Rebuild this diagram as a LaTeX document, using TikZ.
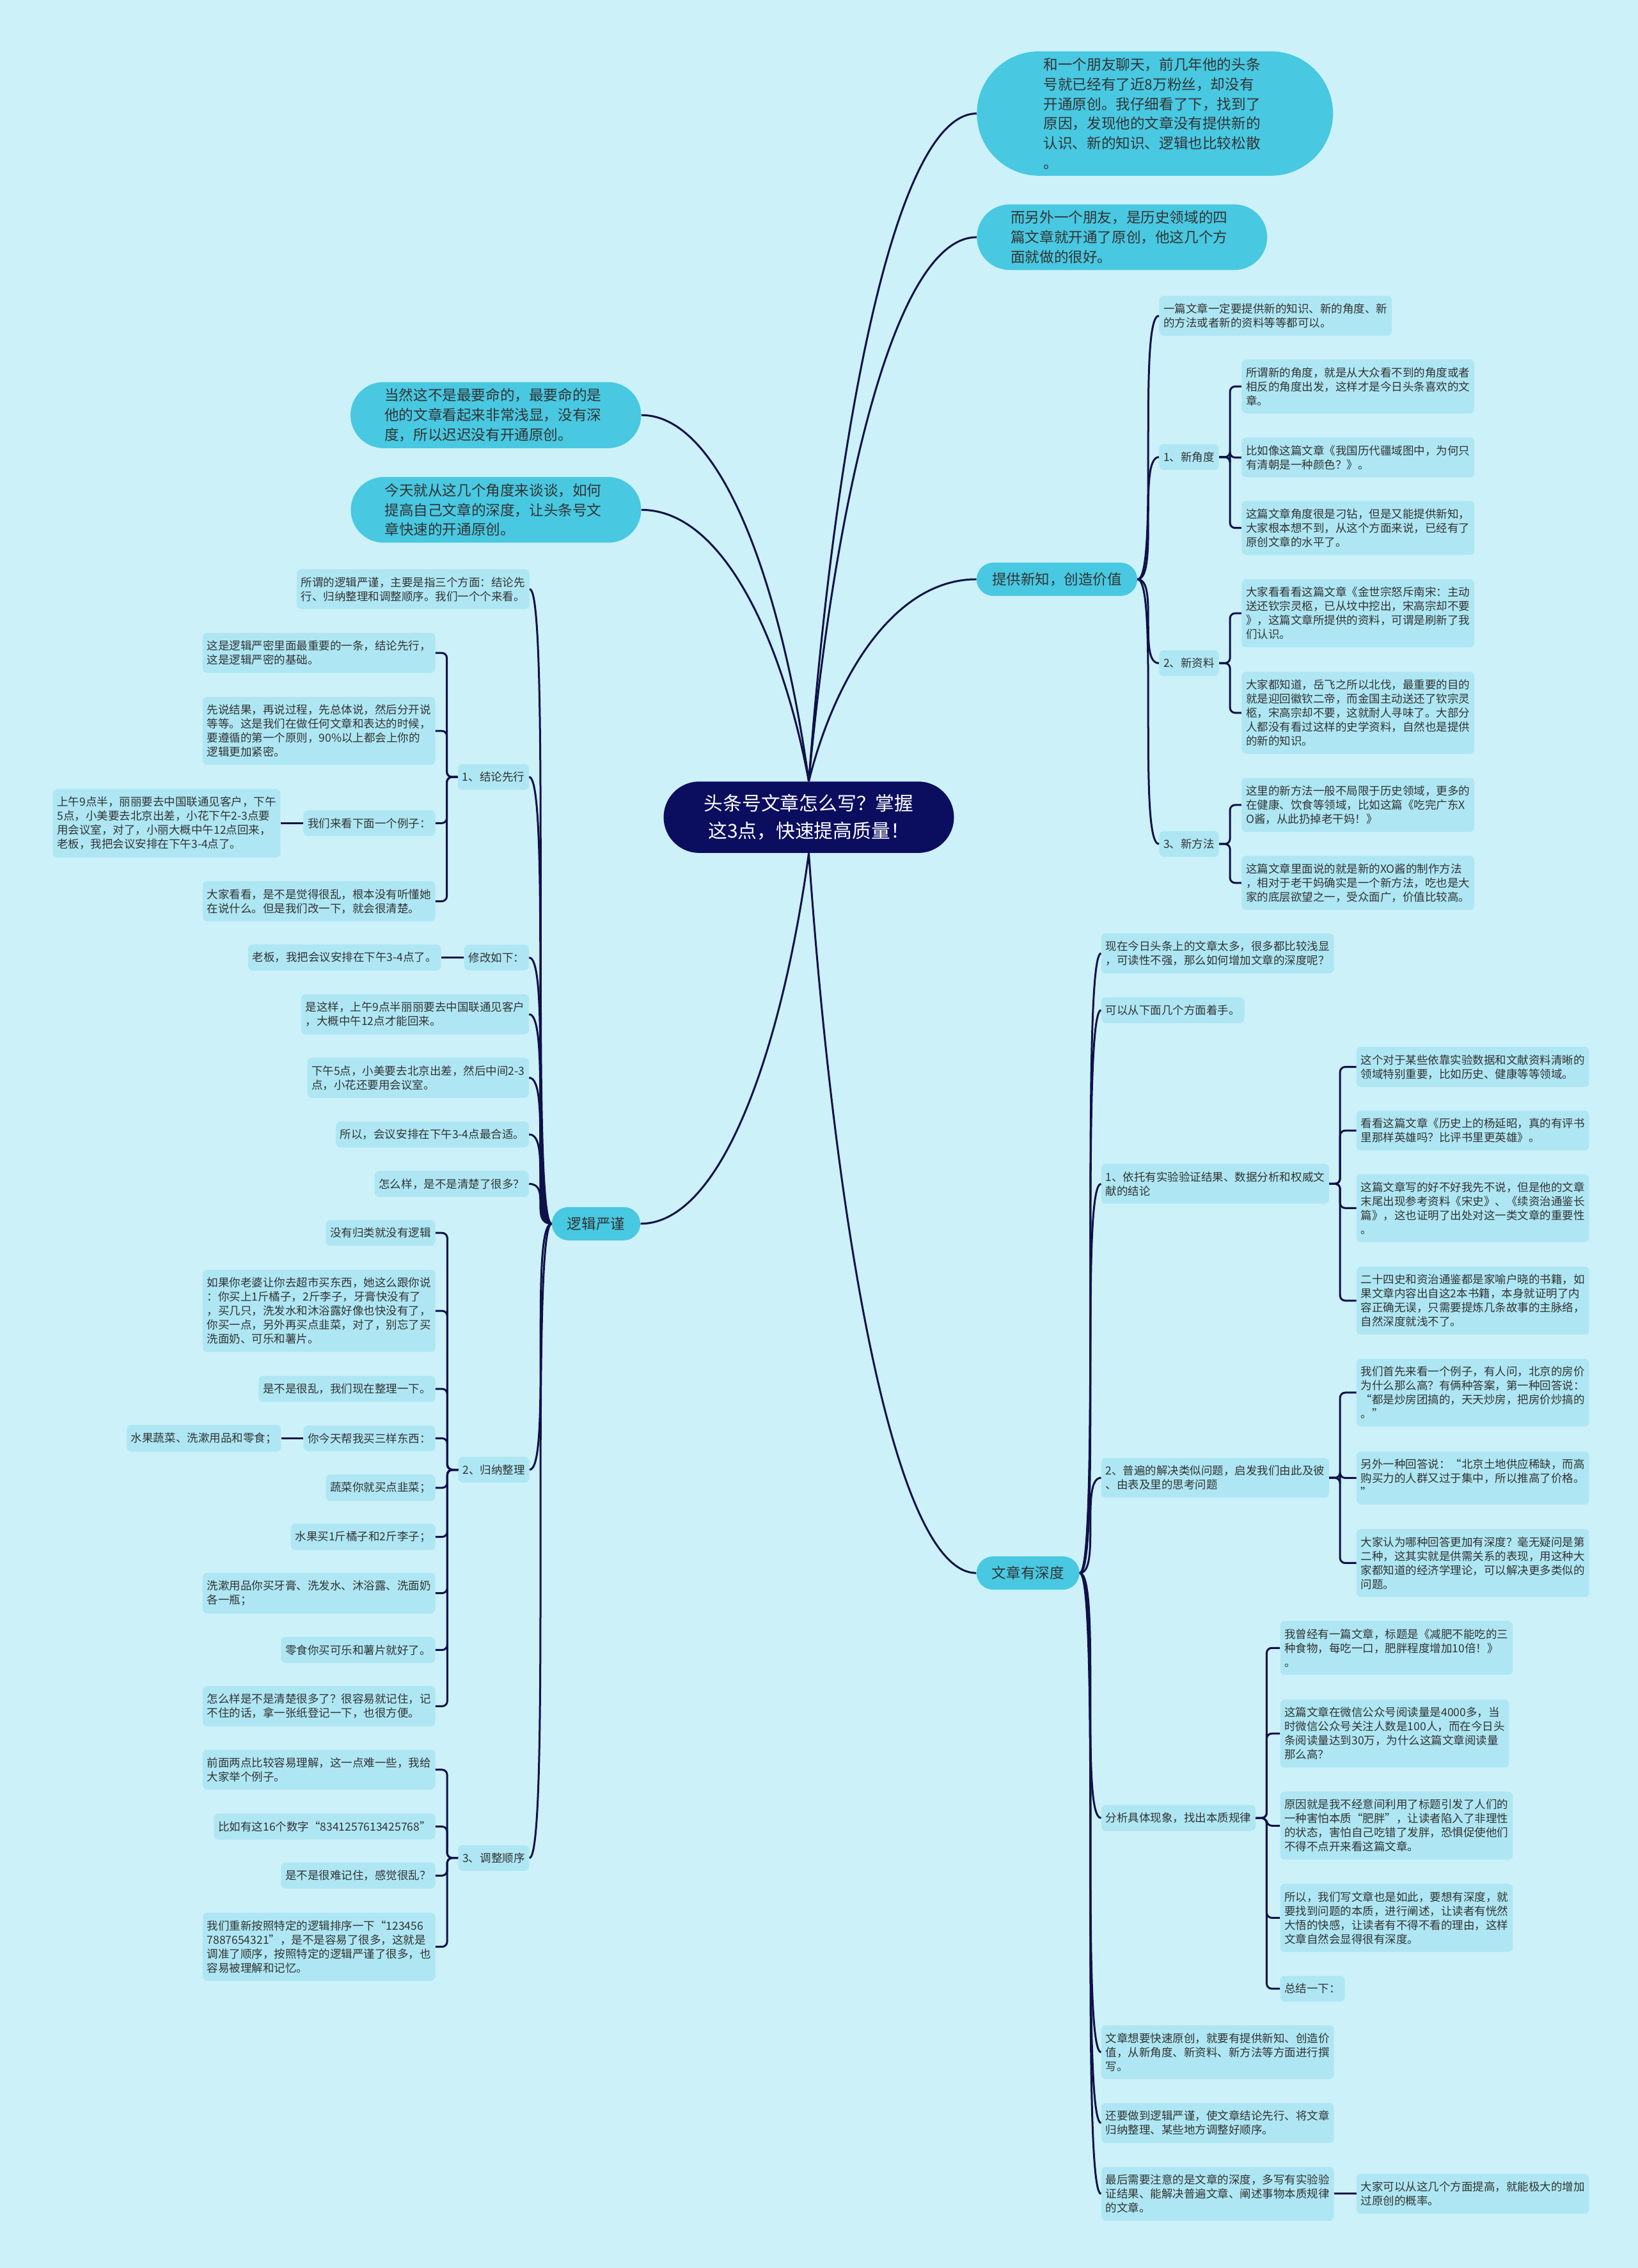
\documentclass[tikz,border=0pt]{standalone}
\usepackage{fontspec}
\setmainfont{Noto Sans CJK SC}
\usetikzlibrary{shapes.misc,calc}
\definecolor{bgc}{HTML}{CCF1F8}
\definecolor{leafc}{HTML}{AEE7F3}
\definecolor{bubc}{HTML}{48C8E1}
\definecolor{navy}{HTML}{0B0D5E}
\definecolor{linec}{HTML}{0F1149}
\definecolor{txt}{HTML}{333333}
\newcommand\lfont{\fontsize{8.75}{11}\selectfont}
\newcommand\bubfont{\fontsize{11.3}{15.4}\selectfont}
\newcommand\brfont{\fontsize{11.25}{13}\selectfont}
\newcommand\ctrfont{\fontsize{14.9}{21.5}\selectfont}
\newcommand\slink[2]{\draw[conn] (#1) .. controls (#1 -| #2) and (#2 -| #1) .. (#2);}
\newcommand\rlink[2]{\draw[conn,rounded corners=4pt] (#1) -- ++(7.5,0) |- (#2);}
\newcommand\llink[2]{\draw[conn,rounded corners=4pt] (#1) -- ++(-7.5,0) |- (#2);}
\newcommand\mlink[2]{\draw[conn] let \p1=(#1), \p2=(#2) in (\p1) .. controls ({\x1+0.15*(\x2-\x1)},{\y1+0.5*(\y2-\y1)}) and ({\x1+0.5*(\x2-\x1)},\y2) .. (\p2);}
\begin{document}
\begin{tikzpicture}[x=1.1307pt,y=-1.1307pt,
 leaf/.style={fill=leafc, rounded corners=3.5pt, inner xsep=3.4pt, inner ysep=6pt, align=left, font=\lfont, text=txt},
 bubble/.style={rounded rectangle, fill=bubc, inner xsep=16pt, inner ysep=5pt, text width=174pt, align=left, font=\bubfont, text=txt},
 branch/.style={rounded rectangle, fill=bubc, inner xsep=11pt, inner ysep=3pt, minimum height=26pt, font=\brfont, text=txt},
 ctrnode/.style={rounded rectangle, fill=navy, text=white, font=\ctrfont, align=center, inner xsep=25pt, inner ysep=10pt},
 conn/.style={draw=linec, line width=1.5pt}]
\fill[bgc] (0,0) rectangle (1132,1568);

% center and bubbles
\node[ctrnode] (ctr) at (559,565) {头条号文章怎么写？掌握\\这3点，快速提高质量！};
\node[bubble, anchor=west, inner xsep=25pt] (q1) at (675,78.5) {和一个朋友聊天，前几年他的头条\\号就已经有了近8万粉丝，却没有\\开通原创。我仔细看了下，找到了\\原因，发现他的文章没有提供新的\\认识、新的知识、逻辑也比较松散\\。};
\node[bubble, anchor=west] (q2) at (675,164) {而另外一个朋友，是历史领域的四\\篇文章就开通了原创，他这几个方\\面就做的很好。};
\node[bubble, anchor=east] (q3) at (443.3,287) {当然这不是最要命的，最要命的是\\他的文章看起来非常浅显，没有深\\度，所以迟迟没有开通原创。};
\node[bubble, anchor=east] (q4) at (443.3,352.5) {今天就从这几个角度来谈谈，如何\\提高自己文章的深度，让头条号文\\章快速的开通原创。};

\node[branch] (p1) at (730.5,400.5) {提供新知，创造价值};
\node[branch] (p2) at (412,846) {逻辑严谨};
\node[branch] (p3) at (710.5,1087.5) {文章有深度};

% branch 1
\node[leaf, anchor=west] (a0) at (801,218.3) {一篇文章一定要提供新的知识、新的角度、新\\的方法或者新的资料等等都可以。};
\node[leaf, anchor=west] (a1) at (801,316) {1、新角度};
\node[leaf, anchor=west] (a11) at (858,267.2) {所谓新的角度，就是从大众看不到的角度或者\\相反的角度出发，这样才是今日头条喜欢的文\\章。};
\node[leaf, anchor=west] (a12) at (858,316.3) {比如像这篇文章《我国历代疆域图中，为何只\\有清朝是一种颜色？》。};
\node[leaf, anchor=west] (a13) at (858,365) {这篇文章角度很是刁钻，但是又能提供新知，\\大家根本想不到，从这个方面来说，已经有了\\原创文章的水平了。};
\node[leaf, anchor=west] (a2) at (801,458.5) {2、新资料};
\node[leaf, anchor=west] (a21) at (858,424) {大家看看看这篇文章《金世宗怒斥南宋：主动\\送还钦宗灵柩，已从坟中挖出，宋高宗却不要\\》，这篇文章所提供的资料，可谓是刷新了我\\们认识。};
\node[leaf, anchor=west] (a22) at (858,492.8) {大家都知道，岳飞之所以北伐，最重要的目的\\就是迎回徽钦二帝，而金国主动送还了钦宗灵\\柩，宋高宗却不要，这就耐人寻味了。大部分\\人都没有看过这样的史学资料，自然也是提供\\的新的知识。};
\node[leaf, anchor=west] (a3) at (801,583.5) {3、新方法};
\node[leaf, anchor=west] (a31) at (858,556.5) {这里的新方法一般不局限于历史领域，更多的\\在健康、饮食等领域，比如这篇《吃完广东X\\O酱，从此扔掉老干妈！》};
\node[leaf, anchor=west] (a32) at (858,610.4) {这篇文章里面说的就是新的XO酱的制作方法\\，相对于老干妈确实是一个新方法，吃也是大\\家的底层欲望之一，受众面广，价值比较高。};

% branch 3
\node[leaf, anchor=west] (c0) at (761,659.1) {现在今日头条上的文章太多，很多都比较浅显\\，可读性不强，那么如何增加文章的深度呢？};
\node[leaf, anchor=west] (c1) at (761,698.4) {可以从下面几个方面着手。};
\node[leaf, anchor=west] (c2) at (761,818.4) {1、依托有实验验证结果、数据分析和权威文\\献的结论};
\node[leaf, anchor=west] (c21) at (937.4,737.6) {这个对于某些依靠实验数据和文献资料清晰的\\领域特别重要，比如历史、健康等等领域。};
\node[leaf, anchor=west] (c22) at (937.4,781.6) {看看这篇文章《历史上的杨延昭，真的有评书\\里那样英雄吗？比评书里更英雄》。};
\node[leaf, anchor=west] (c23) at (937.4,835.2) {这篇文章写的好不好我先不说，但是他的文章\\末尾出现参考资料《宋史》、《续资治通鉴长\\篇》，这也证明了出处对这一类文章的重要性\\。};
\node[leaf, anchor=west] (c24) at (937.4,899.2) {二十四史和资治通鉴都是家喻户晓的书籍，如\\果文章内容出自这2本书籍，本身就证明了内\\容正确无误，只需要提炼几条故事的主脉络，\\自然深度就浅不了。};
\node[leaf, anchor=west] (c3) at (761,1021.7) {2、普遍的解决类似问题，启发我们由此及彼\\、由表及里的思考问题};
\node[leaf, anchor=west] (c31) at (937.4,962.8) {我们首先来看一个例子，有人问，北京的房价\\为什么那么高？有俩种答案，第一种回答说：\\“都是炒房团搞的，天天炒房，把房价炒搞的\\。”};
\node[leaf, anchor=west] (c32) at (937.4,1021.8) {另外一种回答说：“北京土地供应稀缺，而高\\购买力的人群又过于集中，所以推高了价格。\\”};
\node[leaf, anchor=west] (c33) at (937.4,1080.6) {大家认为哪种回答更加有深度？毫无疑问是第\\二种，这其实就是供需关系的表现，用这种大\\家都知道的经济学理论，可以解决更多类似的\\问题。};
\node[leaf, anchor=west] (c4) at (761,1256.9) {分析具体现象，找出本质规律};
\node[leaf, anchor=west] (c41) at (884.6,1139.3) {我曾经有一篇文章，标题是《减肥不能吃的三\\种食物，每吃一口，肥胖程度增加10倍！》\\。};
\node[leaf, anchor=west] (c42) at (884.6,1198.5) {这篇文章在微信公众号阅读量是4000多，当\\时微信公众号关注人数是100人，而在今日头\\条阅读量达到30万，为什么这篇文章阅读量\\那么高？};
\node[leaf, anchor=west] (c43) at (884.6,1262.2) {原因就是我不经意间利用了标题引发了人们的\\一种害怕本质“肥胖”，让读者陷入了非理性\\的状态，害怕自己吃错了发胖，恐惧促使他们\\不得不点开来看这篇文章。};
\node[leaf, anchor=west] (c44) at (884.6,1325.9) {所以，我们写文章也是如此，要想有深度，就\\要找到问题的本质，进行阐述，让读者有恍然\\大悟的快感，让读者有不得不看的理由，这样\\文章自然会显得很有深度。};
\node[leaf, anchor=west] (c45) at (884.6,1374.9) {总结一下：};
\node[leaf, anchor=west] (c5) at (761,1418.8) {文章想要快速原创，就要有提供新知、创造价\\值，从新角度、新资料、新方法等方面进行撰\\写。};
\node[leaf, anchor=west] (c6) at (761,1467.7) {还要做到逻辑严谨，使文章结论先行、将文章\\归纳整理、某些地方调整好顺序。};
\node[leaf, anchor=west] (c7) at (761,1516.7) {最后需要注意的是文章的深度，多写有实验验\\证结果、能解决普遍文章、阐述事物本质规律\\的文章。};
\node[leaf, anchor=west] (c71) at (937.4,1516.7) {大家可以从这几个方面提高，就能极大的增加\\过原创的概率。};

% branch 2 (left)
\node[leaf, anchor=east] (b0) at (366.1,407.3) {所谓的逻辑严谨，主要是指三个方面：结论先\\行、归纳整理和调整顺序。我们一个个来看。};
\node[leaf, anchor=east] (b1) at (365.7,537.2) {1、结论先行};
\node[leaf, anchor=east] (b11) at (301,451.4) {这是逻辑严密里面最重要的一条，结论先行，\\这是逻辑严密的基础。};
\node[leaf, anchor=east] (b12) at (301,505.3) {先说结果，再说过程，先总体说，然后分开说\\等等。这是我们在做任何文章和表达的时候，\\要遵循的第一个原则，90\%以上都会上你的\\逻辑更加紧密。};
\node[leaf, anchor=east] (b13) at (301,569.1) {我们来看下面一个例子：};
\node[leaf, anchor=east] (b131) at (194,569.1) {上午9点半，丽丽要去中国联通见客户，下午\\5点，小美要去北京出差，小花下午2-3点要\\用会议室，对了，小丽大概中午12点回来，\\老板，我把会议安排在下午3-4点了。};
\node[leaf, anchor=east] (b14) at (301,623.1) {大家看看，是不是觉得很乱，根本没有听懂她\\在说什么。但是我们改一下，就会很清楚。};
\node[leaf, anchor=east] (b2) at (365.7,662) {修改如下：};
\node[leaf, anchor=east] (b21) at (305,662) {老板，我把会议安排在下午3-4点了。};
\node[leaf, anchor=east] (b3) at (365.7,701.2) {是这样，上午9点半丽丽要去中国联通见客户\\，大概中午12点才能回来。};
\node[leaf, anchor=east] (b4) at (365.7,745.1) {下午5点，小美要去北京出差，然后中间2-3\\点，小花还要用会议室。};
\node[leaf, anchor=east] (b5) at (365.7,784.3) {所以，会议安排在下午3-4点最合适。};
\node[leaf, anchor=east] (b6) at (365.7,818.5) {怎么样，是不是清楚了很多？};
\node[leaf, anchor=east] (b7) at (366,1016.1) {2、归纳整理};
\node[leaf, anchor=east] (b71) at (301,852.4) {没有归类就没有逻辑};
\node[leaf, anchor=east] (b72) at (301,906.3) {如果你老婆让你去超市买东西，她这么跟你说\\：你买上1斤橘子，2斤李子，牙膏快没有了\\，买几只，洗发水和沐浴露好像也快没有了，\\你买一点，另外再买点韭菜，对了，别忘了买\\洗面奶、可乐和薯片。};
\node[leaf, anchor=east] (b73) at (301,960.2) {是不是很乱，我们现在整理一下。};
\node[leaf, anchor=east] (b74) at (301,994.4) {你今天帮我买三样东西：};
\node[leaf, anchor=east] (b741) at (194.4,994.4) {水果蔬菜、洗漱用品和零食；};
\node[leaf, anchor=east] (b75) at (301,1028.6) {蔬菜你就买点韭菜；};
\node[leaf, anchor=east] (b76) at (301,1062.5) {水果买1斤橘子和2斤李子；};
\node[leaf, anchor=east] (b77) at (301,1101.4) {洗漱用品你买牙膏、洗发水、沐浴露、洗面奶\\各一瓶；};
\node[leaf, anchor=east] (b78) at (301,1140.7) {零食你买可乐和薯片就好了。};
\node[leaf, anchor=east] (b79) at (301,1179.6) {怎么样是不是清楚很多了？很容易就记住，记\\不住的话，拿一张纸登记一下，也很方便。};
\node[leaf, anchor=east] (b8) at (365.9,1284.5) {3、调整顺序};
\node[leaf, anchor=east] (b81) at (301,1223.5) {前面两点比较容易理解，这一点难一些，我给\\大家举个例子。};
\node[leaf, anchor=east] (b82) at (301,1262.8) {比如有这16个数字“8341257613425768”};
\node[leaf, anchor=east] (b83) at (301,1296.7) {是不是很难记住，感觉很乱？};
\node[leaf, anchor=east] (b84) at (301,1345.9) {我们重新按照特定的逻辑排序一下“123456\\7887654321”，是不是容易了很多，这就是\\调准了顺序，按照特定的逻辑严谨了很多，也\\容易被理解和记忆。};

% links from center
\mlink{ctr.north}{q1.west}
\mlink{ctr.north}{q2.west}
\mlink{ctr.north}{p1.west}
\mlink{ctr.north}{q3.east}
\mlink{ctr.north}{q4.east}
\mlink{ctr.south}{p2.east}
\mlink{ctr.south}{p3.west}

% branch 1 links
\slink{p1.east}{a0.west}
\slink{p1.east}{a1.west}
\slink{p1.east}{a2.west}
\slink{p1.east}{a3.west}
\rlink{a1.east}{a11.west}
\rlink{a1.east}{a12.west}
\rlink{a1.east}{a13.west}
\rlink{a2.east}{a21.west}
\rlink{a2.east}{a22.west}
\rlink{a3.east}{a31.west}
\rlink{a3.east}{a32.west}

% branch 3 links
\slink{p3.east}{c0.west}
\slink{p3.east}{c1.west}
\slink{p3.east}{c2.west}
\slink{p3.east}{c3.west}
\slink{p3.east}{c4.west}
\slink{p3.east}{c5.west}
\slink{p3.east}{c6.west}
\slink{p3.east}{c7.west}
\rlink{c2.east}{c21.west}
\rlink{c2.east}{c22.west}
\rlink{c2.east}{c23.west}
\rlink{c2.east}{c24.west}
\rlink{c3.east}{c31.west}
\rlink{c3.east}{c32.west}
\rlink{c3.east}{c33.west}
\rlink{c4.east}{c41.west}
\rlink{c4.east}{c42.west}
\rlink{c4.east}{c43.west}
\rlink{c4.east}{c44.west}
\rlink{c4.east}{c45.west}
\draw[conn] (c7.east) -- (c71.west);

% branch 2 links
\slink{p2.west}{b0.east}
\slink{p2.west}{b1.east}
\slink{p2.west}{b2.east}
\slink{p2.west}{b3.east}
\slink{p2.west}{b4.east}
\slink{p2.west}{b5.east}
\slink{p2.west}{b6.east}
\slink{p2.west}{b7.east}
\slink{p2.west}{b8.east}
\llink{b1.west}{b11.east}
\llink{b1.west}{b12.east}
\llink{b1.west}{b13.east}
\llink{b1.west}{b14.east}
\draw[conn] (b13.west) -- (b131.east);
\draw[conn] (b2.west) -- (b21.east);
\llink{b7.west}{b71.east}
\llink{b7.west}{b72.east}
\llink{b7.west}{b73.east}
\llink{b7.west}{b74.east}
\llink{b7.west}{b75.east}
\llink{b7.west}{b76.east}
\llink{b7.west}{b77.east}
\llink{b7.west}{b78.east}
\llink{b7.west}{b79.east}
\draw[conn] (b74.west) -- (b741.east);
\llink{b8.west}{b81.east}
\llink{b8.west}{b82.east}
\llink{b8.west}{b83.east}
\llink{b8.west}{b84.east}
\end{tikzpicture}
\end{document}
